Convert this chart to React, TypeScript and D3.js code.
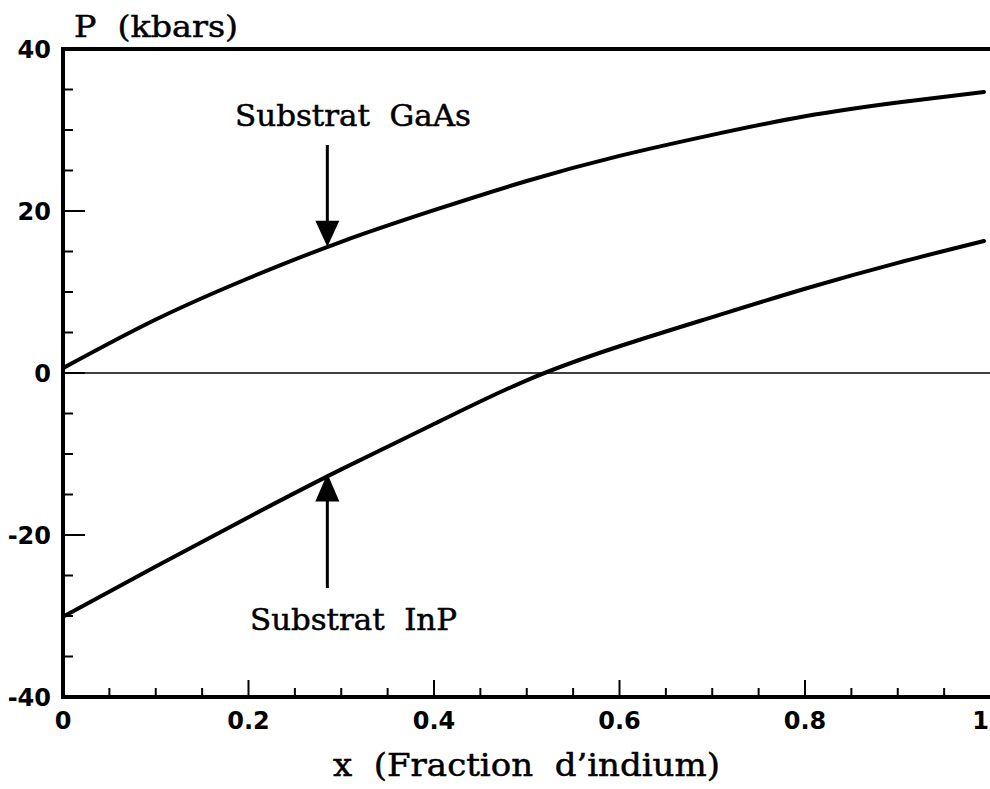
import React from "react";
import * as d3 from "d3";

const xValues = [0, 0.1, 0.2, 0.3, 0.4, 0.5, 0.6, 0.7, 0.8, 0.9, 0.993];
const gaasValues = [0.6, 6.6, 11.7, 16.2, 20.1, 23.7, 26.8, 29.4, 31.7, 33.4, 34.7];
const inpValues = [-30.1, -23.9, -17.8, -11.9, -6.3, -0.9, 3.3, 6.9, 10.4, 13.6, 16.3];
const xTickLabels = ["0", "0.2", "0.4", "0.6", "0.8", "1"];
const xTickValues = [0, 0.2, 0.4, 0.6, 0.8, 1];
const yTickLabels = ["40", "20", "0", "-20", "-40"];
const yTickValues = [40, 20, 0, -20, -40];
const annotations = [
  { label: "Substrat  GaAs", x: 0.285, y: 15.6, dir: "down" },
  { label: "Substrat  InP", x: 0.285, y: -12.4, dir: "up" },
];

const W = 990;
const H = 789;
const left = 63;
const right = 990.5;
const top = 49;
const bottom = 697;

export default function App() {
  const x = d3.scaleLinear().domain([0, 1]).range([left, right]);
  const y = d3.scaleLinear().domain([-40, 40]).range([bottom, top]);
  const line = d3
    .line<number>()
    .x((_, i) => x(xValues[i]))
    .y((d) => y(d))
    .curve(d3.curveNatural);

  const xMinor = d3.range(0, 1.0001, 0.05).filter((v) => v > 0.001 && v < 0.999);
  const yMinor = d3.range(-35, 36, 5);

  const tickFont = { fontFamily: "DejaVu Sans", fontWeight: "bold" as const, fontSize: 24 };
  const serif = {
    fontFamily: "DejaVu Serif",
    stroke: "#000",
    strokeWidth: 0.5,
    style: { whiteSpace: "pre" as const },
  };

  return (
    <div style={{ position: "absolute", left: 0, top: 0 }}>
      <svg width={W} height={H} style={{ display: "block", background: "#fff" }}>
        {/* zero line */}
        <line x1={left} x2={W} y1={y(0)} y2={y(0)} stroke="#000" strokeWidth={1.6} />
        {/* x ticks */}
        {xMinor.map((v, i) => {
          const major = Math.abs(v * 5 - Math.round(v * 5)) < 1e-6;
          return (
            <line key={"xt" + i} x1={x(v)} x2={x(v)} y1={bottom} y2={bottom - (major ? 17 : 9)} stroke="#000" strokeWidth={2} />
          );
        })}
        {/* y ticks */}
        {yMinor.map((v, i) => {
          const major = v % 20 === 0;
          return (
            <line key={"yt" + i} x1={left} x2={left + (major ? 22 : 10)} y1={y(v)} y2={y(v)} stroke="#000" strokeWidth={2} />
          );
        })}
        {/* frame */}
        <line x1={left} x2={W} y1={top} y2={top} stroke="#000" strokeWidth={4} />
        <line x1={left} x2={W} y1={bottom} y2={bottom} stroke="#000" strokeWidth={4} />
        <line x1={left} x2={left} y1={top - 2} y2={bottom + 2} stroke="#000" strokeWidth={4} />
        {/* curves */}
        <path d={line(gaasValues) || ""} fill="none" stroke="#000" strokeWidth={4} strokeLinecap="round" />
        <path d={line(inpValues) || ""} fill="none" stroke="#000" strokeWidth={4} strokeLinecap="round" />
        {/* tick labels */}
        {xTickValues.map((v, i) => (
          <text
            key={"xl" + i}
            x={i === xTickValues.length - 1 ? W - 1 : x(v)}
            y={729}
            textAnchor={i === xTickValues.length - 1 ? "end" : "middle"}
            {...tickFont}
          >
            {xTickLabels[i]}
          </text>
        ))}
        {yTickValues.map((v, i) => (
          <text key={"yl" + i} x={51} y={y(v)} dy="0.36em" textAnchor="end" {...tickFont}>
            {yTickLabels[i]}
          </text>
        ))}
        {/* annotations */}
        {annotations.map((a, i) => {
          const ax = x(a.x);
          const tipY = y(a.y);
          if (a.dir === "down") {
            return (
              <g key={"an" + i}>
                <line x1={ax} x2={ax} y1={145} y2={tipY - 20} stroke="#000" strokeWidth={3} />
                <path d={`M${ax - 12},${tipY - 26} L${ax + 12},${tipY - 26} L${ax},${tipY} Z`} fill="#000" />
                <text x={235} y={126} fontSize={29} textLength={236} lengthAdjust="spacingAndGlyphs" {...serif}>
                  {a.label}
                </text>
              </g>
            );
          }
          return (
            <g key={"an" + i}>
              <line x1={ax} x2={ax} y1={588} y2={tipY + 20} stroke="#000" strokeWidth={3} />
              <path d={`M${ax - 12},${tipY + 28} L${ax + 12},${tipY + 28} L${ax},${tipY} Z`} fill="#000" />
              <text x={250} y={630} fontSize={29} textLength={207} lengthAdjust="spacingAndGlyphs" {...serif}>
                {a.label}
              </text>
            </g>
          );
        })}
        {/* axis titles */}
        <text x={74} y={37} fontSize={30} textLength={164} lengthAdjust="spacingAndGlyphs" {...serif}>
          {"P  (kbars)"}
        </text>
        <text x={333} y={776} fontSize={32} textLength={387} lengthAdjust="spacingAndGlyphs" {...serif}>
          {"x  (Fraction  d’indium)"}
        </text>
      </svg>
    </div>
  );
}
